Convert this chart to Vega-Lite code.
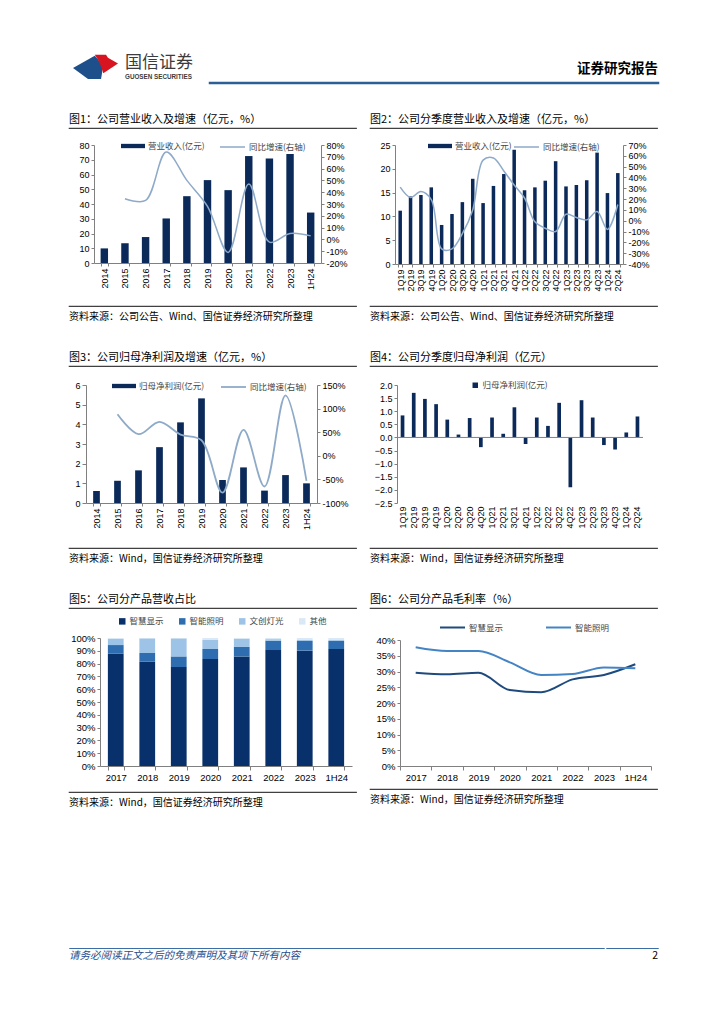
{
  "$schema": "https://vega.github.io/schema/vega-lite/v6.json",
  "background": "white",
  "padding": {"left": 68, "top": 53, "right": 10, "bottom": 10},
  "spacing": 28,
  "resolve": {"scale": {"color": "independent", "fill": "independent", "stroke": "independent", "shape": "independent"}},
  "datasets": {
    "annual": [
      {"period": "2014", "rev": 9.9, "rev_yoy": null, "np": 0.61, "np_yoy": null},
      {"period": "2015", "rev": 13.4, "rev_yoy": 34.5, "np": 1.13, "np_yoy": 88},
      {"period": "2016", "rev": 17.6, "rev_yoy": 33, "np": 1.66, "np_yoy": 46},
      {"period": "2017", "rev": 30.2, "rev_yoy": 74, "np": 2.84, "np_yoy": 72},
      {"period": "2018", "rev": 45.3, "rev_yoy": 50, "np": 4.10, "np_yoy": 45},
      {"period": "2019", "rev": 56.2, "rev_yoy": 28, "np": 5.32, "np_yoy": 33},
      {"period": "2020", "rev": 49.4, "rev_yoy": -11, "np": 1.17, "np_yoy": -78},
      {"period": "2021", "rev": 72.5, "rev_yoy": 47, "np": 1.81, "np_yoy": 55},
      {"period": "2022", "rev": 70.9, "rev_yoy": -2.3, "np": 0.63, "np_yoy": -65},
      {"period": "2023", "rev": 73.9, "rev_yoy": 5, "np": 1.42, "np_yoy": 128},
      {"period": "1H24", "rev": 34.2, "rev_yoy": 3, "np": 1.00, "np_yoy": -53}
    ],
    "quarterly": [
      {"period": "1Q19", "rev": 11.2, "rev_yoy": 31, "np": 0.84},
      {"period": "2Q19", "rev": 14.2, "rev_yoy": 21.5, "np": 1.70},
      {"period": "3Q19", "rev": 14.5, "rev_yoy": 27, "np": 1.47},
      {"period": "4Q19", "rev": 16.1, "rev_yoy": 19.5, "np": 1.27},
      {"period": "1Q20", "rev": 8.2, "rev_yoy": -26, "np": 0.68},
      {"period": "2Q20", "rev": 10.5, "rev_yoy": -26, "np": 0.11},
      {"period": "3Q20", "rev": 13.0, "rev_yoy": -12, "np": 0.74},
      {"period": "4Q20", "rev": 17.9, "rev_yoy": 10, "np": -0.37},
      {"period": "1Q21", "rev": 12.8, "rev_yoy": 56, "np": 0.76},
      {"period": "2Q21", "rev": 16.4, "rev_yoy": 58, "np": 0.14},
      {"period": "3Q21", "rev": 18.9, "rev_yoy": 46, "np": 1.15},
      {"period": "4Q21", "rev": 24.0, "rev_yoy": 33, "np": -0.25},
      {"period": "1Q22", "rev": 15.5, "rev_yoy": 21, "np": 0.76},
      {"period": "2Q22", "rev": 16.1, "rev_yoy": -1, "np": 0.44},
      {"period": "3Q22", "rev": 17.5, "rev_yoy": -7, "np": 1.32},
      {"period": "4Q22", "rev": 21.6, "rev_yoy": -10, "np": -1.90},
      {"period": "1Q23", "rev": 16.3, "rev_yoy": 6, "np": 1.42},
      {"period": "2Q23", "rev": 16.6, "rev_yoy": 3, "np": 0.76},
      {"period": "3Q23", "rev": 17.6, "rev_yoy": 0.8, "np": -0.29},
      {"period": "4Q23", "rev": 23.4, "rev_yoy": 8.5, "np": -0.46},
      {"period": "1Q24", "rev": 14.9, "rev_yoy": -8, "np": 0.19},
      {"period": "2Q24", "rev": 19.1, "rev_yoy": 15, "np": 0.80}
    ],
    "mix": [
      {"period": "2017", "product": "智慧显示", "share": 87.7},
      {"period": "2017", "product": "智能照明", "share": 6.8},
      {"period": "2017", "product": "文创灯光", "share": 5.0},
      {"period": "2017", "product": "其他", "share": 0.5},
      {"period": "2018", "product": "智慧显示", "share": 81.7},
      {"period": "2018", "product": "智能照明", "share": 6.6},
      {"period": "2018", "product": "文创灯光", "share": 11.4},
      {"period": "2018", "product": "其他", "share": 0.3},
      {"period": "2019", "product": "智慧显示", "share": 77.3},
      {"period": "2019", "product": "智能照明", "share": 8.3},
      {"period": "2019", "product": "文创灯光", "share": 14.1},
      {"period": "2019", "product": "其他", "share": 0.3},
      {"period": "2020", "product": "智慧显示", "share": 83.6},
      {"period": "2020", "product": "智能照明", "share": 7.8},
      {"period": "2020", "product": "文创灯光", "share": 7.3},
      {"period": "2020", "product": "其他", "share": 1.3},
      {"period": "2021", "product": "智慧显示", "share": 85.6},
      {"period": "2021", "product": "智能照明", "share": 7.4},
      {"period": "2021", "product": "文创灯光", "share": 6.5},
      {"period": "2021", "product": "其他", "share": 0.5},
      {"period": "2022", "product": "智慧显示", "share": 90.6},
      {"period": "2022", "product": "智能照明", "share": 7.3},
      {"period": "2022", "product": "文创灯光", "share": 1.2},
      {"period": "2022", "product": "其他", "share": 0.9},
      {"period": "2023", "product": "智慧显示", "share": 90.1},
      {"period": "2023", "product": "智能照明", "share": 7.6},
      {"period": "2023", "product": "文创灯光", "share": 1.0},
      {"period": "2023", "product": "其他", "share": 1.3},
      {"period": "1H24", "product": "智慧显示", "share": 91.4},
      {"period": "1H24", "product": "智能照明", "share": 6.3},
      {"period": "1H24", "product": "文创灯光", "share": 0.7},
      {"period": "1H24", "product": "其他", "share": 1.6}
    ],
    "gm": [
      {"period": "2017", "product": "智慧显示", "gm": 29.6},
      {"period": "2018", "product": "智慧显示", "gm": 29.1},
      {"period": "2019", "product": "智慧显示", "gm": 29.6},
      {"period": "2020", "product": "智慧显示", "gm": 24.1},
      {"period": "2021", "product": "智慧显示", "gm": 23.4},
      {"period": "2022", "product": "智慧显示", "gm": 27.5},
      {"period": "2023", "product": "智慧显示", "gm": 28.9},
      {"period": "1H24", "product": "智慧显示", "gm": 32.3},
      {"period": "2017", "product": "智能照明", "gm": 37.7},
      {"period": "2018", "product": "智能照明", "gm": 36.5},
      {"period": "2019", "product": "智能照明", "gm": 36.5},
      {"period": "2020", "product": "智能照明", "gm": 32.9},
      {"period": "2021", "product": "智能照明", "gm": 28.9},
      {"period": "2022", "product": "智能照明", "gm": 29.2},
      {"period": "2023", "product": "智能照明", "gm": 31.3},
      {"period": "1H24", "product": "智能照明", "gm": 31.0}
    ],
    "logo": [{"part": "lower"}, {"part": "upper"}],
    "none": []
  },
  "config": {
    "font": "Noto Sans CJK SC",
    "view": {"stroke": null},
    "title": {"font": "Noto Sans CJK SC", "fontSize": 11, "fontWeight": "normal", "color": "#000000", "anchor": "start", "offset": 3, "frame": "group"},
    "axis": {"labelFont": "Liberation Sans", "labelFontSize": 9, "labelColor": "#000000", "domainColor": "#808080", "tickColor": "#808080", "tickSize": 3, "labelPadding": 2, "grid": false, "labelOverlap": false},
    "legend": {"labelFont": "Noto Sans CJK SC", "labelFontSize": 8.5, "labelColor": "#444444", "labelOffset": 3}
  },
  "vconcat": [
    {
      "spacing": 6,
      "resolve": {"scale": {"color": "independent", "fill": "independent", "stroke": "independent", "shape": "independent"}},
      "hconcat": [
        {
          "width": 50, "height": 0.01,
          "data": {"name": "logo"},
          "mark": {"type": "point", "filled": true, "opacity": 1, "size": 900, "strokeWidth": 0},
          "encoding": {
            "shape": {"field": "part", "type": "nominal", "scale": {"domain": ["lower", "upper"], "range": ["M-1.4,-1 L0.05,-1.82 C0.35,-1.5 0.6,-1.2 0.55,-0.75 L0.47,-0.27 L-0.4,-0.27 Z", "M0.05,-1.89 L0.8,-1.89 L0.93,-1.68 L1.6,-1.3 L0.62,-0.65 C0.5,-1.05 0.35,-1.5 0.05,-1.89 Z"]}, "legend": null},
            "color": {"field": "part", "type": "nominal", "scale": {"domain": ["lower", "upper"], "range": ["#1d4f8a", "#d7141f"]}, "legend": null}
          }
        },
        {
          "width": 77, "height": 2,
          "data": {"name": "none"},
          "mark": "point",
          "title": {"text": "国信证券", "subtitle": "GUOSEN SECURITIES", "fontSize": 17, "color": "#3c3c3c", "subtitleFont": "Liberation Sans", "subtitleFontSize": 6.3, "subtitleFontWeight": "bold", "subtitleColor": "#3c3c3c", "subtitlePadding": 2, "offset": 2, "anchor": "start"}
        },
        {
          "width": 448, "height": 0.01,
          "view": {"stroke": "#2b5f96", "strokeWidth": 2.5},
          "data": {"name": "none"},
          "mark": "point",
          "title": {"text": "证券研究报告", "anchor": "end", "fontSize": 13.5, "fontWeight": "bold", "offset": 8}
        }
      ]
    },
    {
      "spacing": 12,
      "resolve": {"scale": {"color": "independent", "fill": "independent", "stroke": "independent", "shape": "independent"}},
      "hconcat": [
        {
          "spacing": 4,
          "resolve": {"scale": {"color": "independent", "fill": "independent", "stroke": "independent", "shape": "independent"}},
          "vconcat": [
            {"width": 287, "height": 0.01, "view": {"stroke": "#404040", "strokeWidth": 1.2}, "data": {"name": "none"}, "mark": "point", "title": {"text": "图1：公司营业收入及增速（亿元，%）"}},
            {
              "spacing": 7,
              "resolve": {"scale": {"color": "independent", "fill": "independent", "stroke": "independent", "shape": "independent"}},
              "hconcat": [
                {"width": 0.01, "height": 1, "data": {"name": "none"}, "mark": "point"},
                {
                  "width": 227, "height": 118,
                  "data": {"name": "annual"},
                  "layer": [
                    {
                      "mark": {"type": "bar"},
                      "encoding": {
                        "x": {"field": "period", "type": "ordinal", "sort": null, "title": null, "scale": {"paddingInner": 0.64, "paddingOuter": 0.32}, "axis": {"labelAngle": -90, "tickBand": "extent", "minExtent": 38}},
                        "y": {"field": "rev", "type": "quantitative", "title": null, "scale": {"domain": [0, 80]}, "axis": {"values": [0, 10, 20, 30, 40, 50, 60, 70, 80], "minExtent": 17}},
                        "fill": {"datum": "营业收入(亿元)", "type": "nominal", "scale": {"range": ["#0b2a5a"]}, "legend": {"title": null, "orient": "none", "legendX": 27, "legendY": -11, "symbolType": "M-1,-0.18H1V0.18H-1Z", "symbolSize": 576, "symbolStrokeWidth": 0}}
                      }
                    },
                    {
                      "mark": {"type": "line", "interpolate": "catmull-rom", "strokeWidth": 1.5},
                      "encoding": {
                        "x": {"field": "period", "type": "ordinal", "sort": null, "title": null},
                        "y": {"field": "rev_yoy", "type": "quantitative", "title": null, "scale": {"domain": [-20, 80]}, "axis": {"orient": "right", "values": [-20, -10, 0, 10, 20, 30, 40, 50, 60, 70, 80], "labelExpr": "datum.value + '%'"}},
                        "stroke": {"datum": "同比增速(右轴)", "type": "nominal", "scale": {"range": ["#8eaac8"]}, "legend": {"title": null, "orient": "none", "legendX": 125, "legendY": -11.5, "symbolType": "stroke", "symbolSize": 625, "symbolStrokeWidth": 1.5}}
                      }
                    }
                  ],
                  "resolve": {"scale": {"y": "independent"}}
                }
              ]
            },
            {"width": 287, "height": 0.01, "view": {"stroke": "#404040", "strokeWidth": 1.2}, "data": {"name": "none"}, "mark": "point", "title": {"text": "资料来源：公司公告、Wind、国信证券经济研究所整理", "orient": "bottom", "fontSize": 10, "offset": 6}}
          ]
        },
        {
          "spacing": 4,
          "resolve": {"scale": {"color": "independent", "fill": "independent", "stroke": "independent", "shape": "independent"}},
          "vconcat": [
            {"width": 287, "height": 0.01, "view": {"stroke": "#404040", "strokeWidth": 1.2}, "data": {"name": "none"}, "mark": "point", "title": {"text": "图2：公司分季度营业收入及增速（亿元，%）"}},
            {
              "spacing": 7,
              "resolve": {"scale": {"color": "independent", "fill": "independent", "stroke": "independent", "shape": "independent"}},
              "hconcat": [
                {"width": 0.01, "height": 1, "data": {"name": "none"}, "mark": "point"},
                {
                  "width": 228, "height": 119,
                  "data": {"name": "quarterly"},
                  "layer": [
                    {
                      "mark": {"type": "bar"},
                      "encoding": {
                        "x": {"field": "period", "type": "ordinal", "sort": null, "title": null, "scale": {"paddingInner": 0.66, "paddingOuter": 0.33}, "axis": {"labelAngle": -90, "tickBand": "extent", "minExtent": 37}},
                        "y": {"field": "rev", "type": "quantitative", "title": null, "scale": {"domain": [0, 25]}, "axis": {"values": [0, 5, 10, 15, 20, 25], "minExtent": 17}},
                        "fill": {"datum": "营业收入(亿元)", "type": "nominal", "scale": {"range": ["#0b2a5a"]}, "legend": {"title": null, "orient": "none", "legendX": 33, "legendY": -11, "symbolType": "M-1,-0.18H1V0.18H-1Z", "symbolSize": 576, "symbolStrokeWidth": 0}}
                      }
                    },
                    {
                      "mark": {"type": "line", "interpolate": "catmull-rom", "strokeWidth": 1.5},
                      "encoding": {
                        "x": {"field": "period", "type": "ordinal", "sort": null, "title": null},
                        "y": {"field": "rev_yoy", "type": "quantitative", "title": null, "scale": {"domain": [-40, 70]}, "axis": {"orient": "right", "values": [-40, -30, -20, -10, 0, 10, 20, 30, 40, 50, 60, 70], "labelExpr": "datum.value + '%'"}},
                        "stroke": {"datum": "同比增速(右轴)", "type": "nominal", "scale": {"range": ["#8eaac8"]}, "legend": {"title": null, "orient": "none", "legendX": 118, "legendY": -11.5, "symbolType": "stroke", "symbolSize": 625, "symbolStrokeWidth": 1.5}}
                      }
                    }
                  ],
                  "resolve": {"scale": {"y": "independent"}}
                }
              ]
            },
            {"width": 287, "height": 0.01, "view": {"stroke": "#404040", "strokeWidth": 1.2}, "data": {"name": "none"}, "mark": "point", "title": {"text": "资料来源：公司公告、Wind、国信证券经济研究所整理", "orient": "bottom", "fontSize": 10, "offset": 6}}
          ]
        }
      ]
    },
    {
      "spacing": 12,
      "resolve": {"scale": {"color": "independent", "fill": "independent", "stroke": "independent", "shape": "independent"}},
      "hconcat": [
        {
          "spacing": 6,
          "resolve": {"scale": {"color": "independent", "fill": "independent", "stroke": "independent", "shape": "independent"}},
          "vconcat": [
            {"width": 287, "height": 0.01, "view": {"stroke": "#404040", "strokeWidth": 1.2}, "data": {"name": "none"}, "mark": "point", "title": {"text": "图3：公司归母净利润及增速（亿元，%）"}},
            {
              "spacing": 4,
              "resolve": {"scale": {"color": "independent", "fill": "independent", "stroke": "independent", "shape": "independent"}},
              "hconcat": [
                {"width": 0.01, "height": 1, "data": {"name": "none"}, "mark": "point"},
                {
                  "width": 231, "height": 118,
                  "data": {"name": "annual"},
                  "layer": [
                    {
                      "mark": {"type": "bar"},
                      "encoding": {
                        "x": {"field": "period", "type": "ordinal", "sort": null, "title": null, "scale": {"paddingInner": 0.68, "paddingOuter": 0.34}, "axis": {"labelAngle": -90, "tickBand": "extent", "minExtent": 38}},
                        "y": {"field": "np", "type": "quantitative", "title": null, "scale": {"domain": [0, 6]}, "axis": {"values": [0, 1, 2, 3, 4, 5, 6], "minExtent": 11, "tickSize": 4}},
                        "fill": {"datum": "归母净利润(亿元)", "type": "nominal", "scale": {"range": ["#0b2a5a"]}, "legend": {"title": null, "orient": "none", "legendX": 26, "legendY": -11, "symbolType": "M-1,-0.18H1V0.18H-1Z", "symbolSize": 576, "symbolStrokeWidth": 0}}
                      }
                    },
                    {
                      "mark": {"type": "line", "interpolate": "catmull-rom", "strokeWidth": 1.8},
                      "encoding": {
                        "x": {"field": "period", "type": "ordinal", "sort": null, "title": null},
                        "y": {"field": "np_yoy", "type": "quantitative", "title": null, "scale": {"domain": [-100, 150]}, "axis": {"orient": "right", "values": [-100, -50, 0, 50, 100, 150], "labelExpr": "datum.value + '%'"}},
                        "stroke": {"datum": "同比增速(右轴)", "type": "nominal", "scale": {"range": ["#8eaac8"]}, "legend": {"title": null, "orient": "none", "legendX": 134, "legendY": -11.5, "symbolType": "stroke", "symbolSize": 625, "symbolStrokeWidth": 1.8}}
                      }
                    }
                  ],
                  "resolve": {"scale": {"y": "independent"}}
                }
              ]
            },
            {"width": 287, "height": 0.01, "view": {"stroke": "#404040", "strokeWidth": 1.2}, "data": {"name": "none"}, "mark": "point", "title": {"text": "资料来源：Wind，国信证券经济研究所整理", "orient": "bottom", "fontSize": 10, "offset": 6}}
          ]
        },
        {
          "spacing": 9,
          "resolve": {"scale": {"color": "independent", "fill": "independent", "stroke": "independent", "shape": "independent"}},
          "vconcat": [
            {"width": 287, "height": 0.01, "view": {"stroke": "#404040", "strokeWidth": 1.2}, "data": {"name": "none"}, "mark": "point", "title": {"text": "图4：公司分季度归母净利润（亿元）"}},
            {
              "spacing": 3,
              "resolve": {"scale": {"color": "independent", "fill": "independent", "stroke": "independent", "shape": "independent"}},
              "hconcat": [
                {"width": 0.01, "height": 1, "data": {"name": "none"}, "mark": "point"},
                {
                  "width": 246, "height": 118,
                  "layer": [
                    {
                      "data": {"name": "quarterly"},
                      "mark": {"type": "bar"},
                      "encoding": {
                        "x": {"field": "period", "type": "ordinal", "sort": null, "title": null, "scale": {"paddingInner": 0.67, "paddingOuter": 0.33}, "axis": {"labelAngle": -90, "domain": false, "ticks": false, "minExtent": 35, "labelPadding": 3}},
                        "y": {"field": "np", "type": "quantitative", "title": null, "scale": {"domain": [-2.5, 2.0], "nice": false}, "axis": {"values": [-2.5, -2.0, -1.5, -1.0, -0.5, 0, 0.5, 1.0, 1.5, 2.0], "tickCount": 10, "format": ".1f", "minExtent": 21}},
                        "fill": {"datum": "归母净利润(亿元)", "type": "nominal", "scale": {"range": ["#0b2a5a"]}, "legend": {"title": null, "orient": "none", "legendX": 69, "legendY": -9, "padding": 5, "symbolType": "square", "symbolSize": 30, "symbolStrokeWidth": 0}}
                      }
                    },
                    {
                      "data": {"values": [{"level": 0}]},
                      "mark": {"type": "rule", "color": "#808080", "strokeWidth": 1},
                      "encoding": {"y": {"field": "level", "type": "quantitative", "axis": {"values": [-2.5, -2.0, -1.5, -1.0, -0.5, 0, 0.5, 1.0, 1.5, 2.0], "tickCount": 10, "format": ".1f", "minExtent": 21}}}
                    }
                  ]
                }
              ]
            },
            {"width": 287, "height": 0.01, "view": {"stroke": "#404040", "strokeWidth": 1.2}, "data": {"name": "none"}, "mark": "point", "title": {"text": "资料来源：Wind，国信证券经济研究所整理", "orient": "bottom", "fontSize": 10, "offset": 6}}
          ]
        }
      ]
    },
    {
      "spacing": 12,
      "resolve": {"scale": {"color": "independent", "fill": "independent", "stroke": "independent", "shape": "independent"}},
      "hconcat": [
        {
          "spacing": 8,
          "resolve": {"scale": {"color": "independent", "fill": "independent", "stroke": "independent", "shape": "independent"}},
          "vconcat": [
            {"width": 287, "height": 0.01, "view": {"stroke": "#404040", "strokeWidth": 1.2}, "data": {"name": "none"}, "mark": "point", "title": {"text": "图5：公司分产品营收占比"}},
            {
              "spacing": 0,
              "resolve": {"scale": {"color": "independent", "fill": "independent", "stroke": "independent", "shape": "independent"}},
              "hconcat": [
                {"width": 0.01, "height": 1, "data": {"name": "none"}, "mark": "point"},
                {
                  "width": 252, "height": 128,
                  "data": {"name": "mix"},
                  "transform": [{"window": [{"op": "row_number", "as": "stack_rank"}], "groupby": ["period"]}],
                  "mark": {"type": "bar"},
                  "encoding": {
                    "x": {"field": "period", "type": "ordinal", "sort": null, "title": null, "scale": {"paddingInner": 0.5, "paddingOuter": 0.25}, "axis": {"labelAngle": 0, "tickBand": "extent", "tickSize": 4, "labelFontSize": 9.5, "labelPadding": 2, "minExtent": 17}},
                    "y": {"field": "share", "type": "quantitative", "stack": "zero", "title": null, "scale": {"domain": [0, 100], "nice": false}, "axis": {"values": [0, 10, 20, 30, 40, 50, 60, 70, 80, 90, 100], "labelExpr": "datum.value + '%'", "labelFontSize": 9.5, "minExtent": 28}},
                    "color": {"field": "product", "type": "nominal", "sort": ["智慧显示", "智能照明", "文创灯光", "其他"], "scale": {"domain": ["智慧显示", "智能照明", "文创灯光", "其他"], "range": ["#08306b", "#2e6eb0", "#9dc3e6", "#dbe8f5"]}, "legend": {"title": null, "orient": "none", "legendX": 18, "legendY": -21, "direction": "horizontal", "columns": 4, "columnPadding": 14, "symbolType": "square", "symbolSize": 42, "symbolStrokeWidth": 0}},
                    "order": {"field": "stack_rank", "type": "quantitative", "sort": "ascending"}
                  }
                }
              ]
            },
            {"width": 287, "height": 0.01, "view": {"stroke": "#404040", "strokeWidth": 1.2}, "data": {"name": "none"}, "mark": "point", "title": {"text": "资料来源：Wind，国信证券经济研究所整理", "orient": "bottom", "fontSize": 10, "offset": 6}}
          ]
        },
        {
          "spacing": 5,
          "resolve": {"scale": {"color": "independent", "fill": "independent", "stroke": "independent", "shape": "independent"}},
          "vconcat": [
            {"width": 287, "height": 0.01, "view": {"stroke": "#404040", "strokeWidth": 1.2}, "data": {"name": "none"}, "mark": "point", "title": {"text": "图6：公司分产品毛利率（%）"}},
            {
              "spacing": 4,
              "resolve": {"scale": {"color": "independent", "fill": "independent", "stroke": "independent", "shape": "independent"}},
              "hconcat": [
                {"width": 0.01, "height": 1, "data": {"name": "none"}, "mark": "point"},
                {
                  "width": 251, "height": 126,
                  "data": {"name": "gm"},
                  "mark": {"type": "line", "interpolate": "monotone", "strokeWidth": 2},
                  "encoding": {
                    "x": {"field": "period", "type": "ordinal", "sort": null, "title": null, "bandPosition": 0.5, "scale": {"type": "band", "paddingInner": 0, "paddingOuter": 0}, "axis": {"labelAngle": 0, "tickBand": "extent", "tickSize": 4, "labelFontSize": 9.5, "labelPadding": 2, "minExtent": 17}},
                    "y": {"field": "gm", "type": "quantitative", "title": null, "scale": {"domain": [0, 40]}, "axis": {"values": [0, 5, 10, 15, 20, 25, 30, 35, 40], "labelExpr": "datum.value + '%'", "labelFontSize": 9.5, "minExtent": 24}},
                    "color": {"field": "product", "type": "nominal", "sort": ["智慧显示", "智能照明"], "scale": {"domain": ["智慧显示", "智能照明"], "range": ["#1f4a7e", "#4484c4"]}, "legend": {"title": null, "orient": "none", "legendX": 39, "legendY": -26, "direction": "horizontal", "columns": 2, "columnPadding": 38, "symbolType": "stroke", "symbolSize": 625, "symbolStrokeWidth": 2}}
                  }
                }
              ]
            },
            {"width": 287, "height": 0.01, "view": {"stroke": "#404040", "strokeWidth": 1.2}, "data": {"name": "none"}, "mark": "point", "title": {"text": "资料来源：Wind，国信证券经济研究所整理", "orient": "bottom", "fontSize": 10, "offset": 6}}
          ]
        }
      ]
    },
    {"width": 1, "height": 82, "data": {"name": "none"}, "mark": "point"},
    {
      "spacing": 0,
      "resolve": {"scale": {"color": "independent", "fill": "independent", "stroke": "independent", "shape": "independent"}},
      "hconcat": [
        {"width": 535, "height": 0.01, "view": {"stroke": "#3a6ea5", "strokeWidth": 1}, "data": {"name": "none"}, "mark": "point", "title": {"text": "请务必阅读正文之后的免责声明及其项下所有内容", "orient": "bottom", "anchor": "start", "fontSize": 10.5, "fontStyle": "italic", "color": "#1f4e8c", "offset": 3}},
        {"width": 52, "height": 0.01, "view": {"stroke": "#3a6ea5", "strokeWidth": 1}, "data": {"name": "none"}, "mark": "point", "title": {"text": "2", "orient": "bottom", "anchor": "end", "fontSize": 10.5, "color": "#000000", "offset": 3}}
      ]
    }
  ]
}
